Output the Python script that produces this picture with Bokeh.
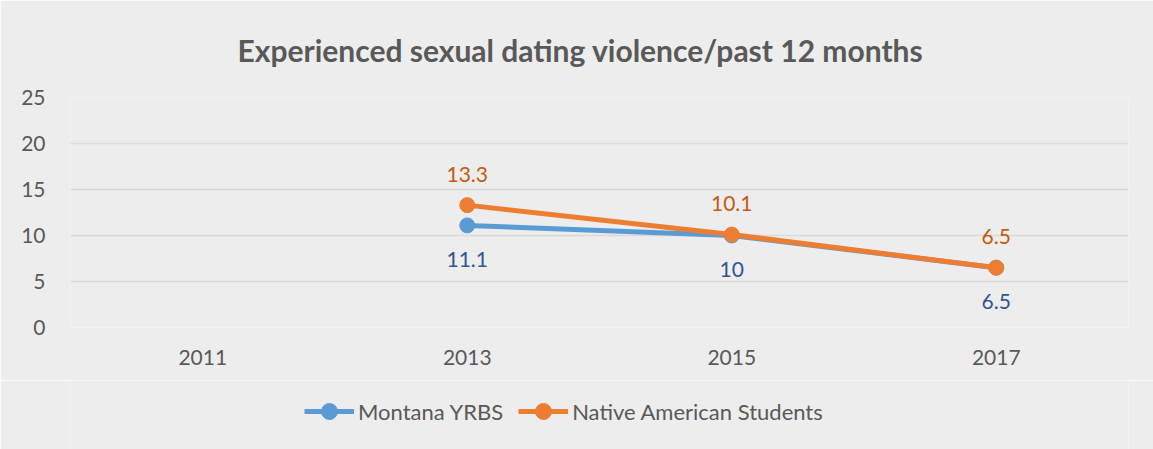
from bokeh.plotting import figure
from bokeh.models import ColumnDataSource, LabelSet, Legend, LegendItem, FactorRange, Range1d
from bokeh.layouts import column
from bokeh.core.properties import value
from bokeh.embed import file_html
from bokeh.resources import INLINE
import math

title_text = "Experienced sexual dating violence/past 12 months"
years = ["2011", "2013", "2015", "2017"]
montana = [float("nan"), 11.1, 10.0, 6.5]
native = [float("nan"), 13.3, 10.1, 6.5]
series_names = ["Montana YRBS", "Native American Students"]
y_ticks = [0, 5, 10, 15, 20, 25]

FONT = "Lato"
GREY_TXT = "#595959"
BLUE = "#5b9bd5"
ORANGE = "#ed7d31"
BLUE_LBL = "#2f5597"
ORANGE_LBL = "#c55a11"
BG = "#ededed"

p = figure(width=1153, height=380, x_range=FactorRange(*years, range_padding=0),
           y_range=(0, 25), output_backend="svg", toolbar_location=None,
           min_border_left=70, min_border_right=25, min_border_top=97, min_border_bottom=53)
p.background_fill_color = BG
p.border_fill_color = BG
p.outline_line_color = None

p.title.text = title_text
p.title.align = "left"
p.title.offset = 167
p.title.text_font = FONT
p.title.text_font_size = "30px"
p.title.text_font_style = "bold"
p.title.text_color = GREY_TXT
p.title.standoff = 59

p.xgrid.grid_line_color = None
p.ygrid.grid_line_color = "#d9d9d9"
p.ygrid.grid_line_width = 1.5
p.yaxis.ticker = y_ticks
for ax in (p.xaxis[0], p.yaxis[0]):
    ax.axis_line_color = None
    ax.major_tick_line_color = None
    ax.minor_tick_line_color = None
    ax.major_label_text_font = FONT
    ax.major_label_text_font_size = "21px"
    ax.major_label_text_color = GREY_TXT
p.xaxis.major_label_standoff = 16
p.yaxis.major_label_standoff = 19

def fmt(v):
    return "" if math.isnan(v) else f"{v:g}"

src_m = ColumnDataSource(dict(x=years, y=montana, t=[fmt(v) for v in montana]))
src_n = ColumnDataSource(dict(x=years, y=native, t=[fmt(v) for v in native]))

p.line("x", "y", source=src_m, line_color=BLUE, line_width=5)
p.scatter("x", "y", source=src_m, size=15, fill_color=BLUE, line_color=BLUE)
p.line("x", "y", source=src_n, line_color=ORANGE, line_width=5)
p.scatter("x", "y", source=src_n, size=15, fill_color=ORANGE, line_color=ORANGE)

p.add_layout(LabelSet(x="x", y="y", text="t", source=src_m, y_offset=-34,
                      text_align="center", text_baseline="middle",
                      text_font=value(FONT), text_font_size="21px", text_color=BLUE_LBL))
p.add_layout(LabelSet(x="x", y="y", text="t", source=src_n, y_offset=31,
                      text_align="center", text_baseline="middle",
                      text_font=value(FONT), text_font_size="21px", text_color=ORANGE_LBL))

# legend strip below the chart (legend proxies carry no visible data)
q = figure(width=1153, height=69, x_range=Range1d(0, 1), y_range=Range1d(0, 1),
           output_backend="svg", toolbar_location=None,
           min_border_left=0, min_border_right=0, min_border_top=0, min_border_bottom=0)
q.axis.visible = False
q.grid.visible = False
q.background_fill_color = BG
q.border_fill_color = BG
q.outline_line_color = None
colors = [BLUE, ORANGE]
items = []
nan = float("nan")
for name, c in zip(series_names, colors):
    r1 = q.line(x=[nan], y=[nan], line_color=c, line_width=5)
    r2 = q.scatter(x=[nan], y=[nan], size=15, fill_color=c, line_color=c)
    items.append(LegendItem(label=name, renderers=[r1, r2]))
legend = Legend(items=items, orientation="horizontal", location=(234, 18),
                glyph_width=50, glyph_height=40, label_standoff=4, spacing=15,
                padding=0, margin=0, border_line_color=None, background_fill_alpha=0,
                label_text_font=FONT, label_text_font_size="22px", label_text_color=GREY_TXT)
q.add_layout(legend, "center")

open("out.html", "w").write(file_html(column(p, q, spacing=0), INLINE))
